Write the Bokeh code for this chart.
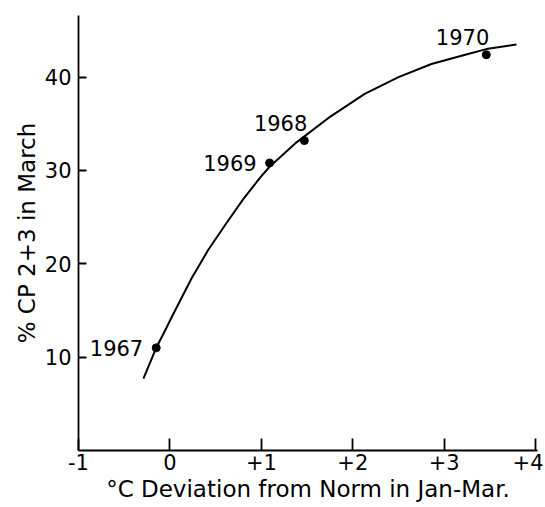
from bokeh.plotting import figure
from bokeh.models import Range1d, FixedTicker, ColumnDataSource
from bokeh.core.properties import value
from bokeh.embed import file_html
from bokeh.resources import INLINE

# Observed points
years = ["1967", "1969", "1968", "1970"]
temp_dev = [-0.15, 1.09, 1.47, 3.46]
pct_cp = [11.0, 30.8, 33.2, 42.4]

# Fitted curve
curve_x = [-0.29, -0.15, -0.05, 0.02, 0.24, 0.42, 0.60, 0.80, 1.00, 1.09,
           1.37, 1.73, 2.13, 2.50, 2.86, 3.23, 3.46, 3.79]
curve_y = [7.7, 11.0, 12.9, 14.3, 18.5, 21.5, 24.1, 26.9, 29.4, 30.4,
           32.9, 35.6, 38.2, 40.0, 41.4, 42.4, 43.0, 43.5]

x_ticks = [-1, 0, 1, 2, 3, 4]
x_tick_labels = ["-1", "0", "+1", "+2", "+3", "+4"]
y_ticks = [10, 20, 30, 40]

FONT = "DejaVu Sans"

p = figure(output_backend="svg", toolbar_location=None,
           x_range=Range1d(-1, 4.02), y_range=Range1d(0, 46.6),
           frame_width=459, frame_height=435,
           min_border_left=78, min_border_right=6, min_border_top=15, min_border_bottom=56)
p.outline_line_color = None
p.xgrid.visible = False
p.ygrid.visible = False
p.background_fill_color = "white"
p.border_fill_color = "white"

for ax in (p.xaxis[0], p.yaxis[0]):
    ax.axis_line_color = "black"
    ax.axis_line_width = 1.8
    ax.major_tick_line_color = "black"
    ax.major_tick_line_width = 1.8
    ax.minor_tick_line_color = None
    ax.major_tick_out = 0
    ax.major_label_text_font = FONT
    ax.major_label_text_color = "black"
    ax.major_label_text_font_size = "21px"
    ax.axis_label_text_font = FONT
    ax.axis_label_text_font_style = "normal"
    ax.axis_label_text_color = "black"
    ax.axis_label_text_font_size = "23px"

p.xaxis.ticker = FixedTicker(ticks=x_ticks)
p.xaxis.major_label_overrides = {t: l for t, l in zip(x_ticks, x_tick_labels)}
p.xaxis.major_tick_in = 12
p.xaxis.major_label_standoff = 3
p.xaxis.axis_label = "°C Deviation from Norm in Jan-Mar."
p.xaxis.axis_label_standoff = 3

p.yaxis.ticker = FixedTicker(ticks=y_ticks)
p.yaxis.major_tick_in = 8
p.yaxis.major_label_standoff = 7
p.yaxis.axis_label = "% CP 2+3 in March"
p.yaxis.axis_label_standoff = 2

p.line(curve_x, curve_y, line_color="black", line_width=2, line_join="round")
p.scatter(temp_dev, pct_cp, size=8, fill_color="black", line_color="black")

left_src = ColumnDataSource(dict(x=temp_dev[:2], y=pct_cp[:2], t=years[:2]))
p.text(x="x", y="y", text="t", source=left_src, text_align="right",
       text_baseline="middle", x_offset=-13, text_font=value(FONT),
       text_font_size="21px", text_color="black")
top_src = ColumnDataSource(dict(x=temp_dev[2:], y=pct_cp[2:], t=years[2:]))
p.text(x="x", y="y", text="t", source=top_src, text_align="right",
       text_baseline="bottom", x_offset=3, y_offset=-10, text_font=value(FONT),
       text_font_size="21px", text_color="black")

open("out.html", "w").write(file_html(p, INLINE))
